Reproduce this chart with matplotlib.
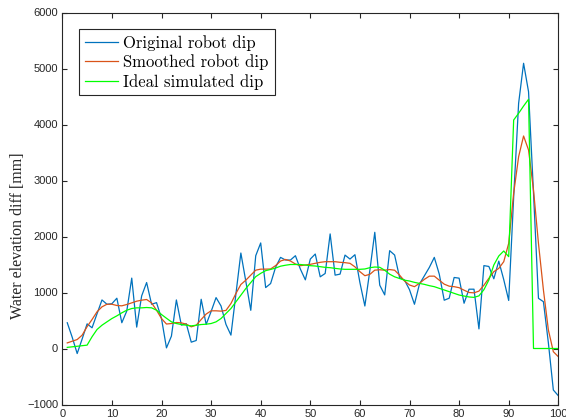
import numpy as np
import matplotlib
matplotlib.use("Agg")
import matplotlib.pyplot as plt

x = list(range(1, 101))

original = [460, 200, -90, 170, 440, 370, 620, 867, 790, 800,
            898, 460, 670, 1257, 382, 939, 1178, 790, 819, 535,
            11, 221, 867, 418, 442, 113, 143, 879, 430, 660,
            909, 760, 430, 239, 970, 1705, 1200, 682, 1657, 1885,
            1088, 1160, 1450, 1627, 1580, 1580, 1657, 1418, 1226, 1597,
            1687, 1280, 1340, 2046, 1310, 1328, 1668, 1597, 1675, 1178,
            759, 1390, 2075, 1131, 957, 1747, 1669, 1268, 1221, 1050,
            790, 1149, 1298, 1448, 1627, 1328, 862, 898, 1268, 1256,
            808, 1059, 1059, 350, 1480, 1465, 1245, 1560, 1230, 858,
            2700, 4378, 5093, 4586, 2780, 896, 836, 100, -741, -843]

smoothed = [100, 130, 160, 238, 390, 518, 655, 744, 790, 790,
            768, 762, 786, 815, 845, 863, 875, 815, 684, 535,
            437, 446, 464, 458, 434, 387, 416, 518, 615, 673,
            673, 667, 680, 803, 982, 1143, 1220, 1310, 1399, 1417,
            1417, 1420, 1480, 1562, 1590, 1562, 1509, 1479, 1491, 1503,
            1521, 1539, 1550, 1550, 1550, 1539, 1533, 1521, 1458, 1372,
            1300, 1324, 1399, 1406, 1398, 1410, 1398, 1310, 1205, 1134,
            1104, 1163, 1235, 1292, 1292, 1220, 1149, 1113, 1104, 1086,
            1041, 1000, 994, 1025, 1130, 1253, 1372, 1431, 1550, 1878,
            2771, 3425, 3795, 3545, 2830, 1878, 1045, 330, -57, -146]

ideal = [20, 30, 40, 50, 60, 210, 339, 416, 476, 535,
         583, 637, 684, 714, 726, 726, 732, 726, 684, 607,
         540, 476, 446, 428, 416, 404, 416, 428, 434, 446,
         476, 535, 625, 714, 833, 952, 1071, 1178, 1283, 1342,
         1390, 1412, 1436, 1470, 1487, 1500, 1500, 1500, 1490, 1479,
         1473, 1461, 1449, 1443, 1431, 1420, 1414, 1414, 1414, 1414,
         1420, 1443, 1455, 1450, 1398, 1327, 1280, 1250, 1220, 1205,
         1181, 1163, 1145, 1122, 1104, 1074, 1045, 1015, 985, 955,
         937, 920, 913, 940, 1050, 1223, 1491, 1652, 1741, 1640,
         4080, 4200, 4330, 4450, 0, 0, 0, 0, 0, 0]

labels = ["Original robot dip", "Smoothed robot dip", "Ideal simulated dip"]
xticks = list(range(0, 101, 10))
yticks = list(range(-1000, 6001, 1000))

axis_col = "#262626"

fig = plt.figure(figsize=(5.66, 4.2), dpi=100)
ax = fig.add_axes([62.3 / 566, 15.5 / 420, 496 / 566, 392 / 420])

ax.plot(x, original, color="#0072BD", lw=0.9, label=labels[0])
ax.plot(x, smoothed, color="#D95319", lw=0.9, label=labels[1])
ax.plot(x, ideal, color="#00FF00", lw=0.9, label=labels[2])

ax.set_xlim(0, 100)
ax.set_ylim(-1000, 6000)
ax.set_xticks(xticks)
ax.set_yticks(yticks)
ax.tick_params(direction="in", length=3.5, width=0.8, top=True, right=True,
               labelsize=8, colors=axis_col, pad=3)
for lab in ax.get_xticklabels() + ax.get_yticklabels():
    lab.set_fontfamily("Liberation Sans")
for sp in ax.spines.values():
    sp.set_color(axis_col)
    sp.set_linewidth(0.8)

fig.text(18 / 566, 1 - 236 / 420, "Water elevation diff [mm]", rotation=90,
         ha="center", va="center", fontsize=11.5, family="Liberation Serif",
         color=axis_col)

leg = ax.legend(loc="upper left", bbox_to_anchor=(0.034, 0.958), borderaxespad=0,
                prop={"family": "cmr10", "size": 12}, fancybox=False,
                framealpha=1, edgecolor=axis_col, handlelength=2.0,
                handletextpad=0.3, labelspacing=0.22, borderpad=0.35)
leg.get_frame().set_linewidth(0.8)

fig.savefig("out.png", dpi=100)
